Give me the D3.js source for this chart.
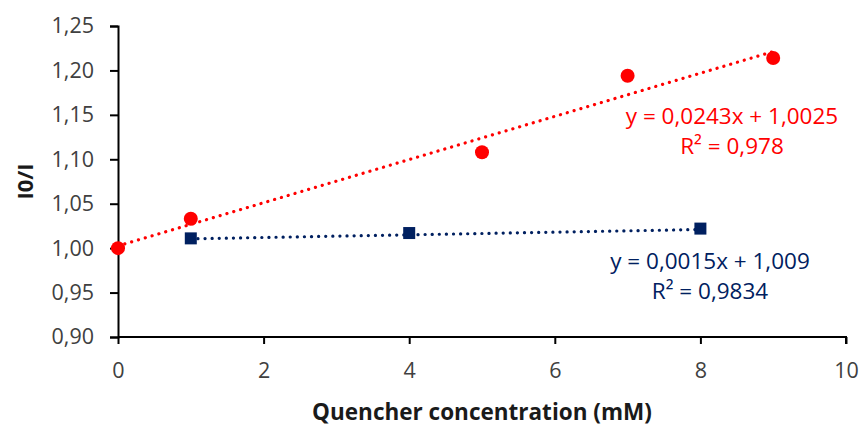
<!DOCTYPE html>
<html>
<head>
<meta charset="utf-8">
<script src="https://cdn.jsdelivr.net/npm/d3@7"></script>
<style>
  body { margin: 0; background: #fff; }
  text { font-family: "Open Sans", sans-serif; }
</style>
</head>
<body>
<div id="chart"></div>
<script>
// data
var redX = [0, 1, 5, 7, 9];
var redY = [1.000, 1.033, 1.108, 1.194, 1.214];
var blueX = [1, 4, 8];
var blueY = [1.011, 1.017, 1.022];

// trendlines (Excel linear fit) : [slope, intercept]
var redFit = [0.0243, 1.0025];
var blueFit = [0.0015, 1.009];
var redLabel = ["y = 0,0243x + 1,0025", "R² = 0,978"];
var blueLabel = ["y = 0,0015x + 1,009", "R² = 0,9834"];

var xTicks = [0, 2, 4, 6, 8, 10];
var yTicks = [0.90, 0.95, 1.00, 1.05, 1.10, 1.15, 1.20, 1.25];

var width = 863, height = 426;
var margin = { top: 26, right: 17, bottom: 89, left: 118 };

var svg = d3.select("#chart")
            .append("svg")
            .attr("width", width)
            .attr("height", height);

var x = d3.scaleLinear()
          .domain([0, 10])
          .range([margin.left, width - margin.right]);
var y = d3.scaleLinear()
          .domain([0.9, 1.25])
          .range([height - margin.bottom, margin.top]);

var comma = function(d) { return d3.format(".2f")(d).replace(".", ","); };

// axes
var xAxis = svg.append("g")
    .attr("transform", "translate(0," + y(0.9) + ")")
    .call(d3.axisBottom(x).tickValues(xTicks).tickSize(7).tickPadding(19).tickFormat(d3.format("d")));
var yAxis = svg.append("g")
    .attr("transform", "translate(" + x(0) + ",0)")
    .call(d3.axisLeft(y).tickValues(yTicks).tickSize(8).tickPadding(16).tickFormat(comma));

[xAxis, yAxis].forEach(function(ax) {
  ax.select(".domain").attr("stroke", "#000").attr("stroke-width", 2);
  ax.selectAll(".tick line").attr("stroke", "#000").attr("stroke-width", 2);
  ax.selectAll(".tick text")
    .attr("fill", "#404040")
    .style("font-size", "21.5px")
    .style("font-family", "'Open Sans', sans-serif");
});
xAxis.select(".domain").attr("d", "M" + x(0) + ",0H" + x(10) + "V7");

// trendlines
function trend(fit, x0, x1, color) {
  svg.append("line")
    .attr("x1", x(x0)).attr("y1", y(fit[0] * x0 + fit[1]))
    .attr("x2", x(x1)).attr("y2", y(fit[0] * x1 + fit[1]))
    .attr("stroke", color)
    .attr("stroke-width", 3.2)
    .attr("stroke-linecap", "round")
    .attr("stroke-dasharray", "0.1 7");
}
trend(redFit, d3.min(redX), d3.max(redX), "#ff0000");
trend(blueFit, d3.min(blueX), d3.max(blueX), "#002060");

// points
svg.selectAll(".red")
  .data(redX)
  .enter()
  .append("circle")
  .attr("cx", function(d) { return x(d); })
  .attr("cy", function(d, i) { return y(redY[i]); })
  .attr("r", 7)
  .attr("fill", "#ff0000");

var s = 12;
svg.selectAll(".blue")
  .data(blueX)
  .enter()
  .append("rect")
  .attr("x", function(d) { return x(d) - s / 2; })
  .attr("y", function(d, i) { return y(blueY[i]) - s / 2; })
  .attr("width", s)
  .attr("height", s)
  .attr("fill", "#002060");

// equation labels
function label(lines, cx, cy, color) {
  lines.forEach(function(t, i) {
    svg.append("text")
      .attr("x", cx)
      .attr("y", cy + i * 30)
      .attr("text-anchor", "middle")
      .attr("dominant-baseline", "central")
      .style("font-size", "22.5px")
      .attr("fill", color)
      .text(t);
  });
}
label(redLabel, 732, 115, "#ff0000");
label(blueLabel, 710, 260, "#002060");

// axis titles
svg.append("text")
  .attr("x", (x(0) + x(10)) / 2)
  .attr("y", 411)
  .attr("text-anchor", "middle")
  .attr("dominant-baseline", "central")
  .style("font-size", "22.5px")
  .style("font-weight", "bold")
  .attr("fill", "#1a1a1a")
  .text("Quencher concentration (mM)");

svg.append("text")
  .attr("transform", "translate(24," + (y(0.9) + y(1.25)) / 2 + ") rotate(-90)")
  .attr("text-anchor", "middle")
  .attr("dominant-baseline", "central")
  .style("font-size", "22px")
  .style("font-weight", "bold")
  .attr("fill", "#1a1a1a")
  .text("I0/I");
</script>
</body>
</html>
